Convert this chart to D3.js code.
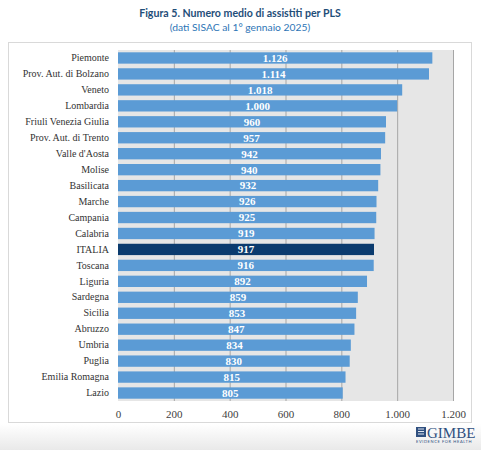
<!DOCTYPE html>
<html>
<head>
<meta charset="utf-8">
<script src="https://cdn.jsdelivr.net/npm/d3@7"></script>
<style>
  html, body { margin: 0; padding: 0; background: #fff; }
  svg { display: block; }
</style>
</head>
<body>
<svg class="chart" width="481" height="450"></svg>
<script>
// regioni ordinate come nella figura
var regions = ["Piemonte", "Prov. Aut. di Bolzano", "Veneto", "Lombardia", "Friuli Venezia Giulia",
  "Prov. Aut. di Trento", "Valle d'Aosta", "Molise", "Basilicata", "Marche", "Campania", "Calabria",
  "ITALIA", "Toscana", "Liguria", "Sardegna", "Sicilia", "Abruzzo", "Umbria", "Puglia",
  "Emilia Romagna", "Lazio"];
var assistiti = [1126, 1114, 1018, 1000, 960, 957, 942, 940, 932, 926, 925, 919,
  917, 916, 892, 859, 853, 847, 834, 830, 815, 805];
var xTicks = [0, 200, 400, 600, 800, 1000, 1200];
var title = "Figura 5. Numero medio di assistiti per PLS";
var subtitle = "(dati SISAC al 1° gennaio 2025)";

var svgElem = d3.select("svg.chart"),
    width = +svgElem.attr("width"),
    height = +svgElem.attr("height");

var serif = "'Liberation Serif', 'DejaVu Serif', serif";
var sans = "Lato, 'Open Sans', sans-serif";

// numeri all'italiana: 1.126
var fmt = d3.formatLocale({ decimal: ",", thousands: ".", grouping: [3], currency: ["€", ""] }).format(",d");

// sfumatura in basso
var defs = svgElem.append("defs");
var grad = defs.append("linearGradient").attr("id", "fade").attr("x1", 0).attr("y1", 0).attr("x2", 0).attr("y2", 1);
grad.append("stop").attr("offset", "0%").attr("stop-color", "#ffffff");
grad.append("stop").attr("offset", "100%").attr("stop-color", "#e9e9e9");
svgElem.append("rect").attr("x", 0).attr("y", 424).attr("width", width).attr("height", height - 424)
    .attr("fill", "url(#fade)");

// titolo
svgElem.append("text")
    .attr("x", 240).attr("y", 17)
    .attr("text-anchor", "middle")
    .style("font-family", sans).style("font-size", "10.6px").style("font-weight", "bold")
    .style("fill", "#1f4e79")
    .text(title);
svgElem.append("text")
    .attr("x", 240).attr("y", 30.5)
    .attr("text-anchor", "middle")
    .style("font-family", sans).style("font-size", "10.3px")
    .style("fill", "#2e75b6")
    .text(subtitle);

// cornice del grafico
svgElem.append("rect")
    .attr("x", 8.5).attr("y", 42.5).attr("width", 463).attr("height", 380)
    .attr("fill", "#fff").attr("stroke", "#d9d9d9");

var x = d3.scaleLinear().domain([0, 1200]).range([118, 453]);
var y = d3.scaleBand().domain(regions).range([50, 401]).paddingInner(0.29).paddingOuter(0.145);

var g = svgElem.append("g");

// sfondo area del grafico
g.append("rect")
    .attr("x", x(0)).attr("y", 50)
    .attr("width", x(1200) - x(0)).attr("height", 351)
    .attr("fill", "#e6e6e6");

// griglia verticale
g.selectAll(".grid")
    .data(xTicks.slice(1))
    .enter().append("line")
    .attr("class", "grid")
    .attr("x1", function (d) { return x(d) + 0.5; })
    .attr("x2", function (d) { return x(d) + 0.5; })
    .attr("y1", 50).attr("y2", 401)
    .attr("stroke", "#a6a6a6").attr("stroke-width", 1);

var data = regions.map(function (r, i) { return { name: r, value: assistiti[i] }; });

g.selectAll(".bar")
    .data(data)
    .enter().append("rect")
    .attr("class", "bar")
    .attr("x", x(0))
    .attr("y", function (d) { return y(d.name); })
    .attr("width", function (d) { return x(d.value) - x(0); })
    .attr("height", y.bandwidth())
    .attr("fill", function (d) { return d.name === "ITALIA" ? "#0b3b6e" : "#5b9bd5"; });

// valori dentro le barre
g.selectAll(".val")
    .data(data)
    .enter().append("text")
    .attr("class", "val")
    .attr("x", function (d) { return (x(0) + x(d.value)) / 2; })
    .attr("y", function (d) { return y(d.name) + y.bandwidth() / 2; })
    .attr("dy", "0.35em")
    .attr("text-anchor", "middle")
    .style("font-family", serif).style("font-size", "11px").style("font-weight", "bold")
    .style("fill", "#fff")
    .text(function (d) { return fmt(d.value); });

// etichette categorie
var yAxis = g.append("g")
    .attr("transform", "translate(" + x(0) + ",0)")
    .call(d3.axisLeft(y).tickSize(0).tickPadding(9));
yAxis.select(".domain").remove();
yAxis.selectAll("text")
    .style("font-family", serif).style("font-size", "10px").style("fill", "#333");

// asse x
var xAxis = g.append("g")
    .attr("transform", "translate(0,401)")
    .call(d3.axisBottom(x).tickValues(xTicks).tickFormat(fmt).tickSize(0).tickPadding(9));
xAxis.select(".domain").remove();
xAxis.selectAll("text")
    .style("font-family", serif).style("font-size", "11px").style("fill", "#404040");

// logo GIMBE
var logo = svgElem.append("g").attr("transform", "translate(416,426)");
logo.append("rect").attr("x", 0).attr("y", 1).attr("width", 10).attr("height", 10).attr("fill", "#2f4f7f");
[3, 5.5, 8].forEach(function (yy) {
  logo.append("line").attr("x1", 2).attr("x2", 8).attr("y1", yy).attr("y2", yy)
      .attr("stroke", "#dfe6f0").attr("stroke-width", 1);
});
logo.append("text")
    .attr("x", 11).attr("y", 11.5)
    .style("font-family", serif).style("font-size", "15px")
    .style("fill", "#2f4f7f")
    .text("GIMBE");
logo.append("text")
    .attr("x", 0).attr("y", 17)
    .style("font-family", sans).style("font-size", "4px").style("letter-spacing", "0.6px")
    .style("fill", "#2f4f7f")
    .text("EVIDENCE FOR HEALTH");
</script>
</body>
</html>
